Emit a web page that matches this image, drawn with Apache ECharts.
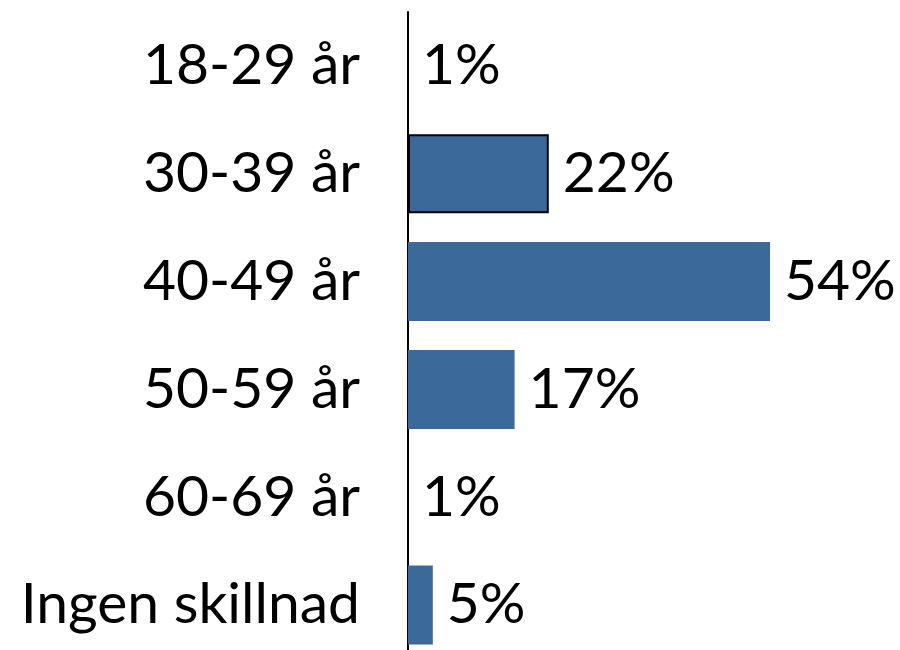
<!DOCTYPE html>
<html>
<head>
<meta charset="utf-8">
<script src="https://cdn.jsdelivr.net/npm/echarts@6/dist/echarts.min.js"></script>
<style>
  html, body { margin: 0; padding: 0; background: #fff; }
  #chart { width: 900px; height: 650px; }
</style>
</head>
<body>
<div id="chart"></div>
<script>
// kategorier uppifrån och ned
const categories = ['18-29 år', '30-39 år', '40-49 år', '50-59 år', '60-69 år', 'Ingen skillnad'];
// stapellängder
const barLengths = [0, 21, 54, 15.9, 0, 3.7];
// etiketter som står vid staplarna
const valueLabels = ['1%', '22%', '54%', '17%', '1%', '5%'];

const chart = echarts.init(document.getElementById('chart'));

chart.setOption({
  animation: false,
  grid: { left: 408, top: 12, width: 362, height: 647, outerBoundsMode: 'none', containLabel: false },
  xAxis: {
    type: 'value',
    min: 0,
    max: 54,
    show: false
  },
  yAxis: {
    type: 'category',
    inverse: true,
    data: categories,
    axisLine: { show: true, lineStyle: { color: '#000', width: 2 } },
    axisTick: { show: false },
    axisLabel: {
      margin: 48,
      color: '#000',
      fontSize: 57,
      fontFamily: 'Lato'
    }
  },
  series: [{
    type: 'bar',
    barWidth: 79,
    data: barLengths.map((v, i) => ({
      value: v,
      itemStyle: i === 1 ? { borderColor: '#000', borderWidth: 2 } : {}
    })),
    itemStyle: { color: '#3b6a9a' },
    label: {
      show: true,
      position: 'right',
      distance: 14,
      color: '#000',
      fontSize: 57,
      fontFamily: 'Lato',
      formatter: p => valueLabels[p.dataIndex]
    }
  }]
});
</script>
</body>
</html>
